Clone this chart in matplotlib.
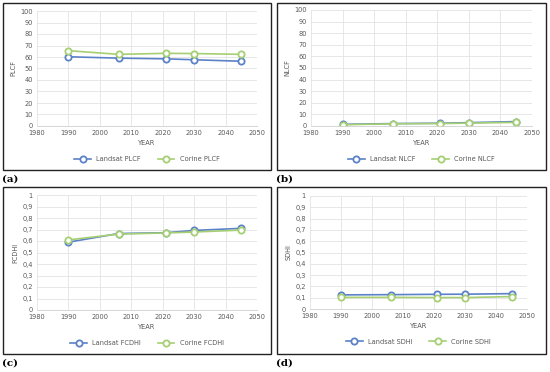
import numpy as np
import matplotlib.pyplot as plt
from matplotlib.patches import Rectangle
from matplotlib.ticker import FuncFormatter

# data
years = [1990, 2006, 2021, 2030, 2045]

landsat_plcf = [60.2, 59.0, 58.4, 57.6, 56.3]
corine_plcf = [65.5, 62.3, 63.2, 63.0, 62.3]

landsat_nlcf = [1.4, 2.1, 2.4, 2.9, 3.8]
corine_nlcf = [1.1, 1.9, 2.1, 2.5, 3.1]

landsat_fcdhi = [0.59, 0.665, 0.672, 0.692, 0.71]
corine_fcdhi = [0.61, 0.660, 0.670, 0.678, 0.695]

landsat_sdhi = [0.125, 0.127, 0.130, 0.131, 0.136]
corine_sdhi = [0.103, 0.103, 0.101, 0.101, 0.110]

blue = '#5b82c8'
green = '#a5cf72'
txt = '#595959'

fig = plt.figure(figsize=(5.5, 3.72), dpi=100)
W, H = 550.0, 372.0

def fx(x):
    return x / W

def fy(y):
    return 1 - y / H

panels = [
    # (box px, axes px, y name, data, ylim, ystep, tag, tag y)
    ((3, 3, 271, 170), (37, 11, 257, 126), 'PLCF', landsat_plcf, corine_plcf, 100, 10, '(a)', 179),
    ((277, 3, 546, 170), (311, 10, 532, 126), 'NLCF', landsat_nlcf, corine_nlcf, 100, 10, '(b)', 179),
    ((3, 187, 271, 354), (37, 195, 257, 310), 'FCDHI', landsat_fcdhi, corine_fcdhi, 1, 0.1, '(c)', 363),
    ((277, 187, 546, 354), (310, 196, 527, 309), 'SDHI', landsat_sdhi, corine_sdhi, 1, 0.1, '(d)', 363),
]

def comma(v, pos):
    s = ('%g' % round(v, 2))
    return s.replace('.', ',')

for box, ap, name, ls, cs, ymax, step, tag, ty in panels:
    x0, y0, x1, y1 = box
    fig.patches.append(Rectangle((fx(x0), fy(y1)), fx(x1 - x0), (y1 - y0) / H,
                                 transform=fig.transFigure, fill=False,
                                 edgecolor='#222222', linewidth=1.0))
    fig.text(fx(x0 - 1), fy(ty), tag, fontsize=7.5, fontweight='bold',
             family='DejaVu Serif', va='center', ha='left')

    a0, b0, a1, b1 = ap
    ax = fig.add_axes([fx(a0), fy(b1), fx(a1 - a0), (b1 - b0) / H])
    ax.plot(years, ls, '-o', color=blue, markerfacecolor='white', markeredgecolor=blue,
            markersize=4.5, markeredgewidth=1.3, linewidth=1.2, label='Landsat ' + name)
    ax.plot(years, cs, '-o', color=green, markerfacecolor='white', markeredgecolor=green,
            markersize=4.5, markeredgewidth=1.3, linewidth=1.2, label='Corine ' + name)
    ax.set_xlim(1980, 2050)
    ax.set_ylim(0, ymax)
    ax.set_xticks(np.arange(1980, 2051, 10))
    ax.set_yticks(np.arange(0, ymax + step / 2, step))
    if ymax == 1:
        ax.yaxis.set_major_formatter(FuncFormatter(comma))
    ax.grid(True, color='#e3e3e3', linewidth=0.6)
    ax.set_axisbelow(True)
    for s in ['top', 'right', 'left']:
        ax.spines[s].set_visible(False)
    ax.spines['bottom'].set_color('#d0d0d0')
    ax.spines['bottom'].set_linewidth(0.6)
    ax.tick_params(length=0, labelsize=4.8, labelcolor=txt, pad=3)
    ax.set_xlabel('YEAR', fontsize=4.8, color=txt, labelpad=3)
    ax.set_ylabel(name, fontsize=4.8, color=txt, labelpad=3)
    ax.legend(loc='upper center', bbox_to_anchor=(0.5, -0.21), ncol=2, frameon=False,
              fontsize=4.8, labelcolor=txt, handlelength=2.5, columnspacing=2.5)

plt.savefig('out.png', dpi=100)
